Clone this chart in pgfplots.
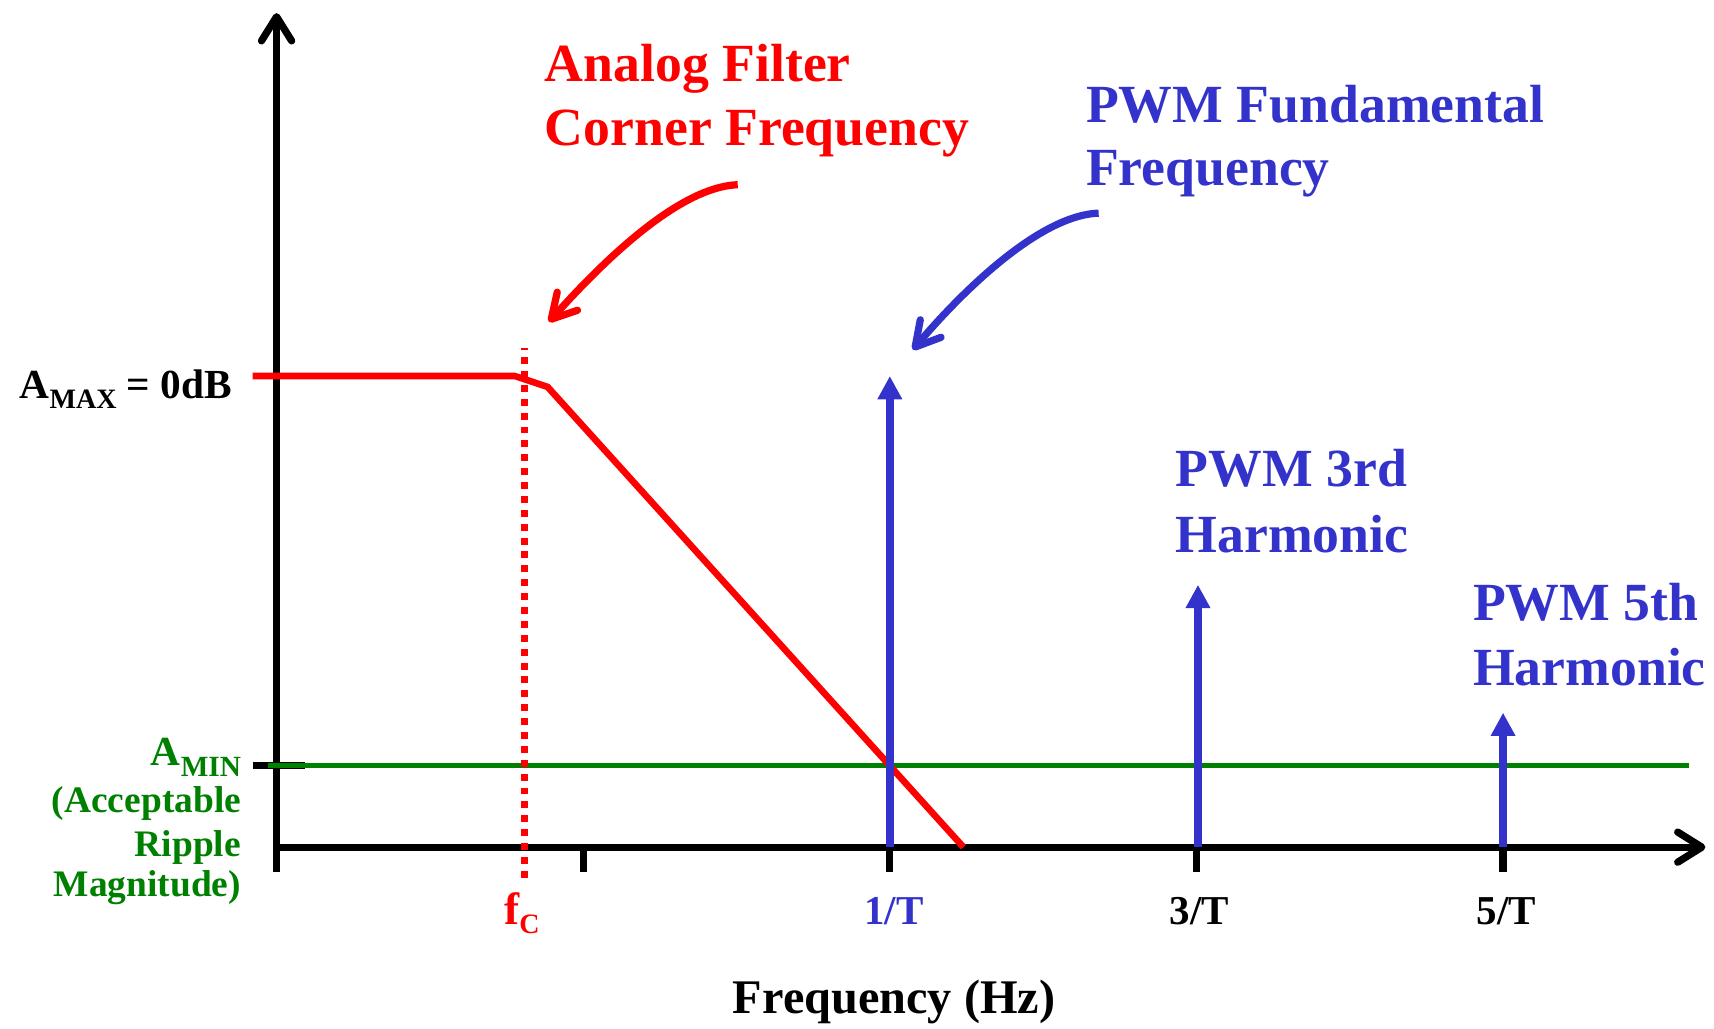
\documentclass[border=0pt]{standalone}
\usepackage{pgfplots}
\pgfplotsset{compat=1.18}
\usetikzlibrary{arrows.meta}
\usepackage{fontspec}
\setmainfont{Liberation Serif}
\definecolor{pwmblue}{RGB}{51,51,204}
\definecolor{ripgreen}{RGB}{0,128,0}
\newcommand{\subA}[1]{\raisebox{-3pt}{\fontsize{9.3}{11}\selectfont #1}}
\newcommand{\subB}[1]{\raisebox{-3.9pt}{\fontsize{9.7}{11}\selectfont #1}}
\begin{document}
\begin{tikzpicture}
\begin{axis}[
  scale only axis, width=567.9pt, height=340.8pt,
  xmin=-0.902, xmax=4.688, ymin=-1.66, ymax=7.75,
  hide axis, clip=false,
]
\path (rel axis cs:0,0) (rel axis cs:1,1);
% black axes
\addplot[black, line width=2.4pt, -{Straight Barb[length=8pt,width=10pt,round]}] coordinates {(0,-0.226) (0,7.63)};
\addplot[black, line width=2.4pt, -{Straight Barb[length=8pt,width=10pt,round]}] coordinates {(0,0) (4.66,0)};
\addplot[black, line width=2.4pt] coordinates {(1,0) (1,-0.226)};
\addplot[black, line width=2.4pt] coordinates {(2,0) (2,-0.226)};
\addplot[black, line width=2.4pt] coordinates {(3,0) (3,-0.226)};
\addplot[black, line width=2.4pt] coordinates {(4,0) (4,-0.226)};
\addplot[black, line width=2.4pt] coordinates {(-0.078,0.75) (0.093,0.75)};
% green A_MIN line
\addplot[ripgreen, line width=1.65pt] coordinates {(-0.0285,0.75) (4.606,0.75)};
% red dotted corner frequency
\addplot[red, line width=2.4pt, dash pattern=on 2.3pt off 2.3pt] coordinates {(0.809,-0.28) (0.809,4.57)};
% red filter response
\addplot[red, line width=2.2pt] coordinates {(-0.078,4.31) (0.777,4.31) (0.884,4.21) (2.24,0)};
% blue harmonics
\addplot[pwmblue, line width=2.7pt, -{Triangle[length=7.7pt,width=7.7pt]}] coordinates {(2,0) (2,4.31)};
\addplot[pwmblue, line width=2.7pt, -{Triangle[length=7.7pt,width=7.7pt]}] coordinates {(3.005,0) (3.005,2.40)};
\addplot[pwmblue, line width=2.7pt, -{Triangle[length=7.7pt,width=7.7pt]}] coordinates {(4.0,0) (4.0,1.23)};
% curved annotation arrows
\draw[red, line width=2.4pt, -{Straight Barb[length=8pt,width=9pt,round]}]
  (axis cs:1.504,6.06) .. controls (axis cs:1.30,6.04) and (axis cs:1.033,5.26) .. (axis cs:0.888,4.805);
\draw[pwmblue, line width=2.4pt, -{Straight Barb[length=8pt,width=9pt,round]}]
  (axis cs:2.681,5.80) .. controls (axis cs:2.477,5.78) and (axis cs:2.21,5.0) .. (axis cs:2.075,4.55);
% texts
\begin{scope}[every node/.style={inner sep=0pt}]
\node[red, anchor=base west, font=\bfseries\fontsize{17.8}{21}\selectfont] at (axis cs:0.873,7.00) {Analog Filter};
\node[red, anchor=base west, font=\bfseries\fontsize{17.8}{21}\selectfont] at (axis cs:0.873,6.42) {Corner Frequency};
\node[pwmblue, anchor=base west, font=\bfseries\fontsize{17.8}{21}\selectfont] at (axis cs:2.638,6.63) {PWM Fundamental};
\node[pwmblue, anchor=base west, font=\bfseries\fontsize{17.8}{21}\selectfont] at (axis cs:2.638,6.05) {Frequency};
\node[pwmblue, anchor=base west, font=\bfseries\fontsize{17.8}{21}\selectfont] at (axis cs:2.930,3.30) {PWM 3rd};
\node[pwmblue, anchor=base west, font=\bfseries\fontsize{17.8}{21}\selectfont] at (axis cs:2.930,2.70) {Harmonic};
\node[pwmblue, anchor=base west, font=\bfseries\fontsize{17.8}{21}\selectfont] at (axis cs:3.900,2.07) {PWM 5th};
\node[pwmblue, anchor=base west, font=\bfseries\fontsize{17.8}{21}\selectfont] at (axis cs:3.900,1.48) {Harmonic};
\node[black, anchor=base east, font=\bfseries\fontsize{13.7}{16}\selectfont] at (axis cs:-0.143,4.10) {A\subA{MAX} = 0dB};
\node[ripgreen, anchor=base east, font=\bfseries\fontsize{13.7}{16}\selectfont] at (axis cs:-0.114,0.75) {A\subB{MIN}};
\node[ripgreen, anchor=base east, font=\bfseries\fontsize{12.4}{15}\selectfont] at (axis cs:-0.114,0.32) {(Acceptable};
\node[ripgreen, anchor=base east, font=\bfseries\fontsize{12.4}{15}\selectfont] at (axis cs:-0.114,-0.09) {Ripple};
\node[ripgreen, anchor=base east, font=\bfseries\fontsize{12.4}{15}\selectfont] at (axis cs:-0.114,-0.45) {Magnitude)};
\node[red, anchor=base, font=\bfseries\fontsize{15}{18}\selectfont] at (axis cs:0.80,-0.71) {f\subA{C}};
\node[pwmblue, anchor=base, font=\bfseries\fontsize{13.6}{16}\selectfont] at (axis cs:2.014,-0.71) {1/T};
\node[black, anchor=base, font=\bfseries\fontsize{13.6}{16}\selectfont] at (axis cs:3.01,-0.71) {3/T};
\node[black, anchor=base, font=\bfseries\fontsize{13.6}{16}\selectfont] at (axis cs:4.01,-0.71) {5/T};
\node[black, anchor=base, font=\bfseries\fontsize{16}{19}\selectfont] at (axis cs:2.014,-1.52) {Frequency (Hz)};
\end{scope}
\end{axis}
\end{tikzpicture}
\end{document}
